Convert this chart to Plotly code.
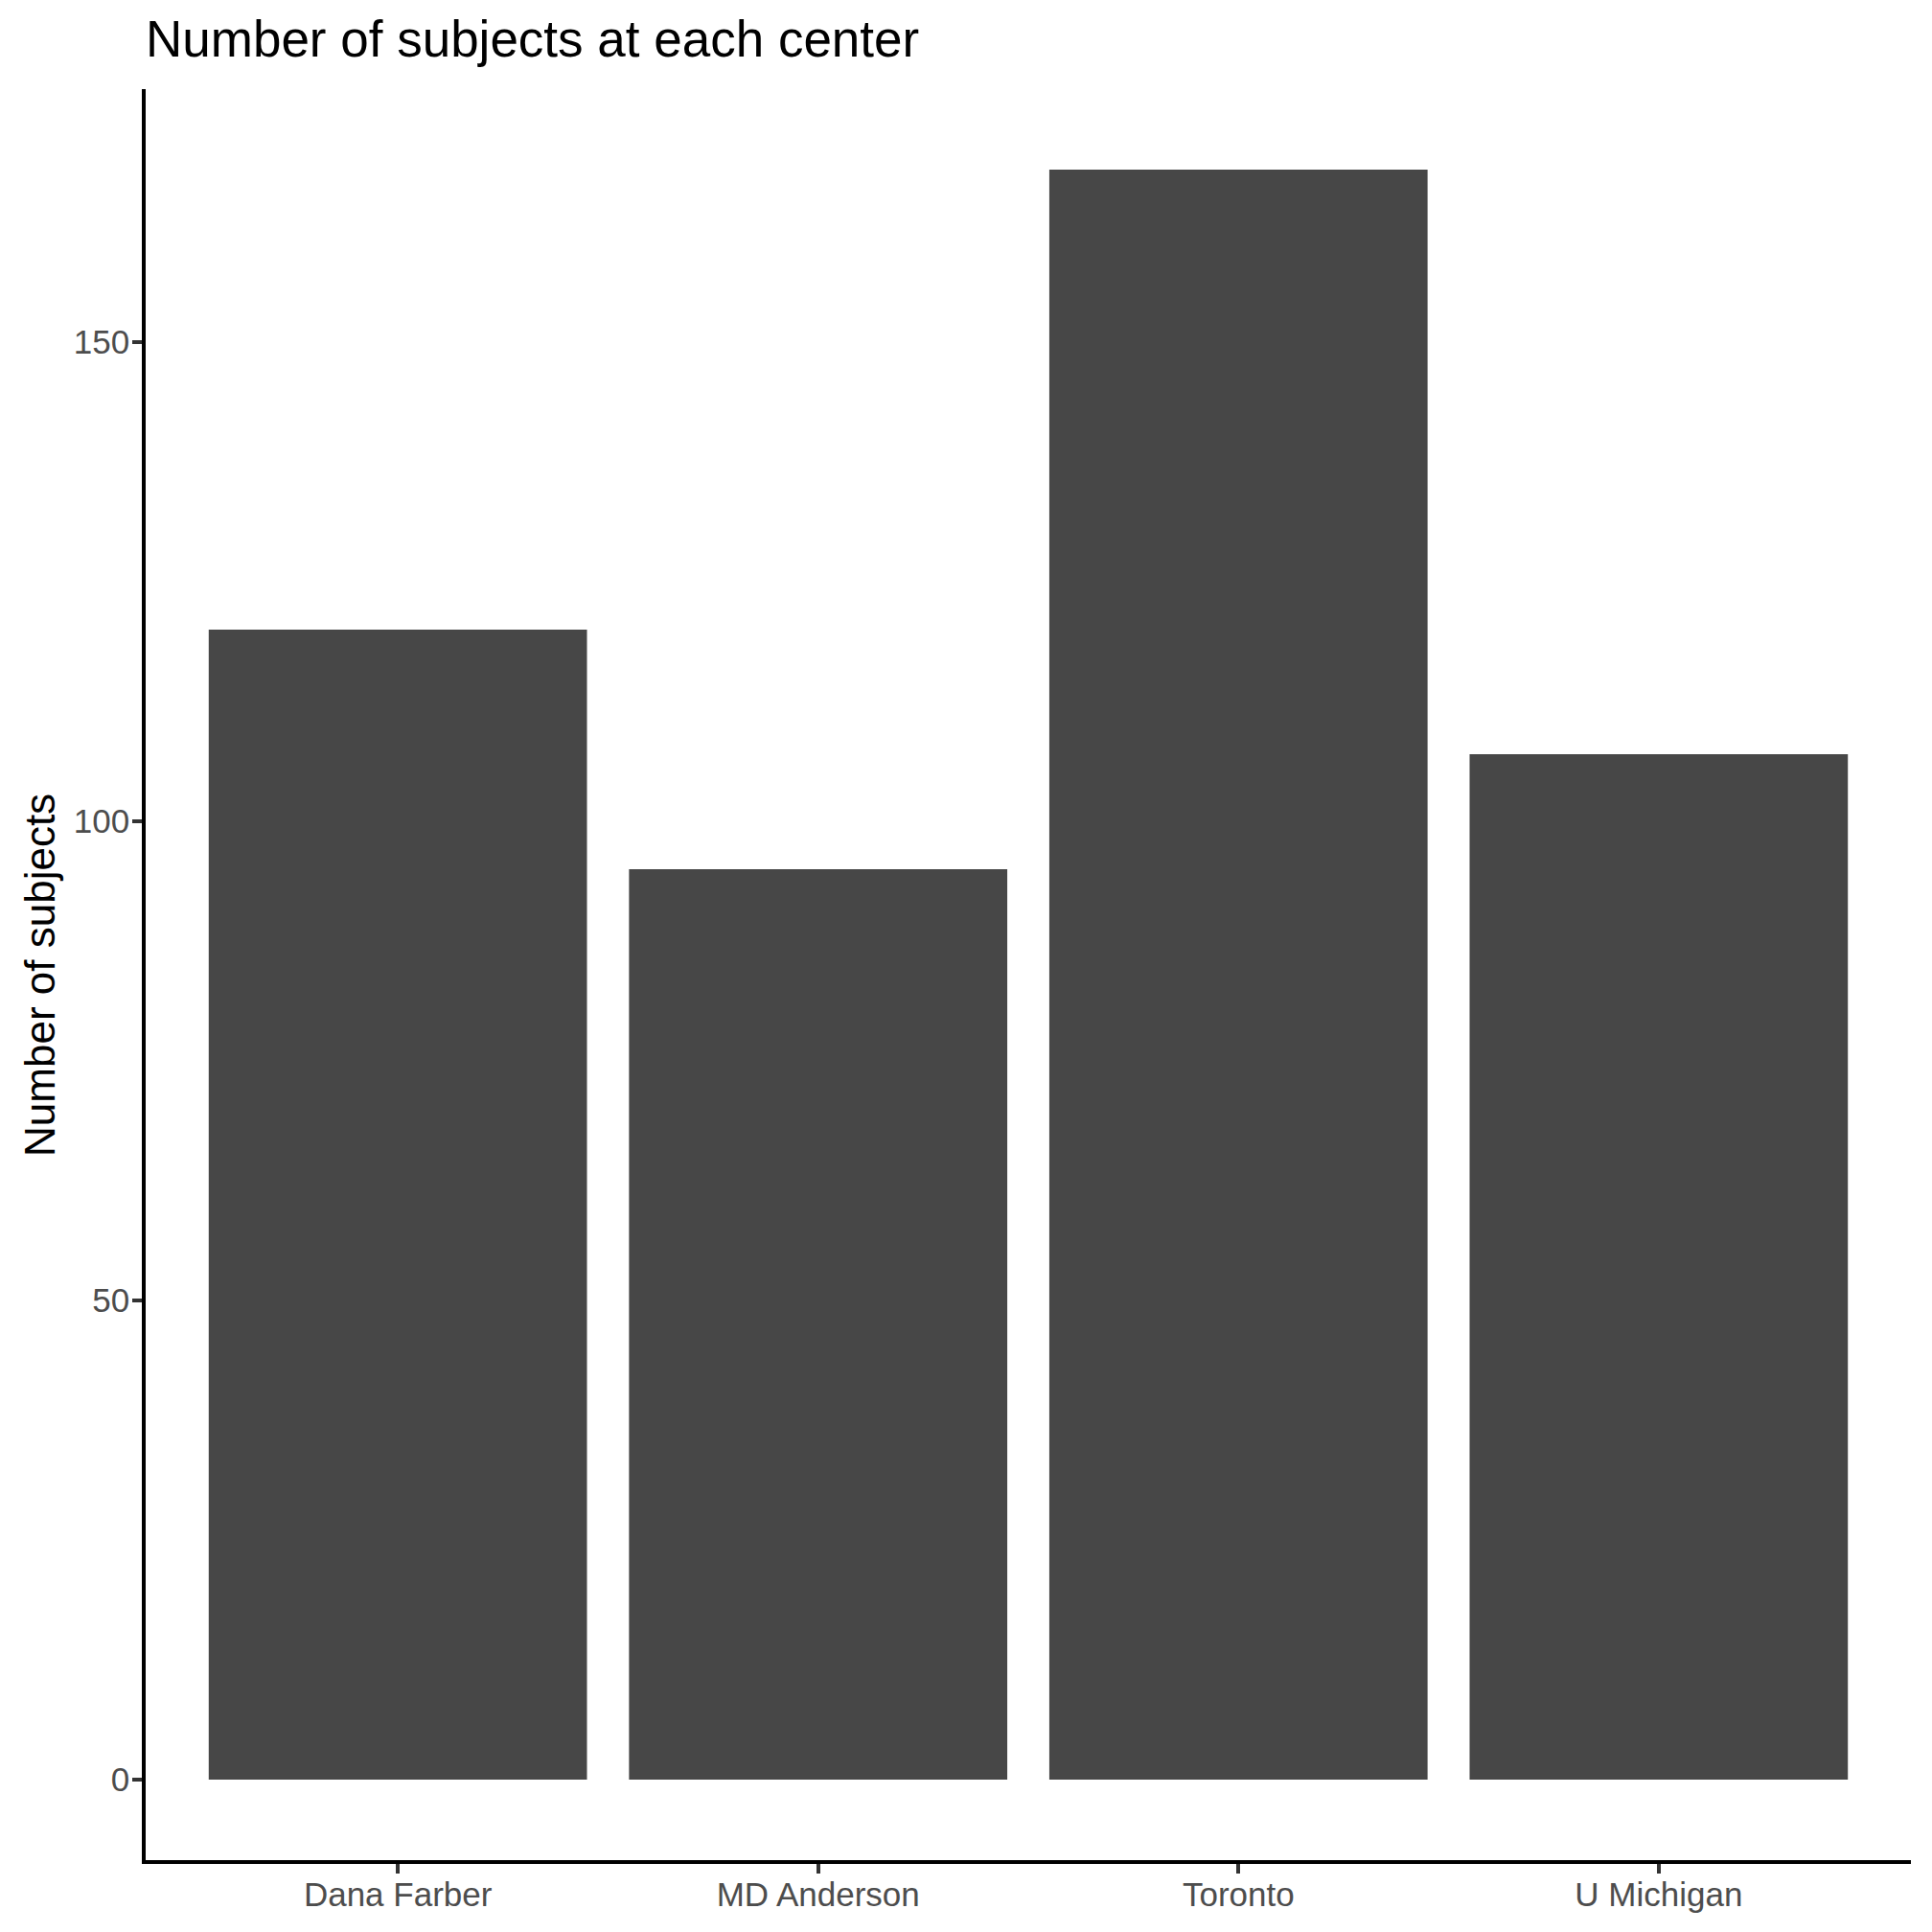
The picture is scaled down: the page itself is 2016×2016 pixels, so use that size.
import plotly.graph_objects as go

# bar chart data
centers = ["Dana Farber", "MD Anderson", "Toronto", "U Michigan"]
subjects = [120, 95, 168, 107]
y_ticks = [0, 50, 100, 150]

fig = go.Figure()
fig.add_trace(go.Bar(x=centers, y=subjects, width=0.9,
                     marker_color="#474747", marker_line_width=0))

font = "Liberation Sans, Arial, sans-serif"
# page body adds an 8px offset, so margins are shifted to compensate
fig.update_layout(
    width=2016, height=2016,
    margin=dict(l=144, r=30, t=85, b=83, pad=0),
    plot_bgcolor="white", paper_bgcolor="white",
    showlegend=False,
    font=dict(family=font),
    title=dict(text="Number of subjects at each center",
               font=dict(size=53, color="black", family=font),
               x=0, xref="paper", xanchor="left",
               y=1 - 32 / 2016, yref="container", yanchor="middle"),
)

fig.update_xaxes(range=[-0.6, 3.6], showline=True, linecolor="black", linewidth=3.6,
                 ticks="outside", ticklen=10, tickwidth=3.6, tickcolor="#333333",
                 ticklabelstandoff=-8,
                 tickfont=dict(size=35, color="#4D4D4D"), showgrid=False, zeroline=False)
fig.update_yaxes(range=[-8.4, 176.4], tickvals=y_ticks, showline=True, linecolor="black",
                 linewidth=3.6, ticks="outside", ticklen=10, tickwidth=3.6, tickcolor="#333333",
                 ticklabelstandoff=-4,
                 tickfont=dict(size=35, color="#4D4D4D"), showgrid=False, zeroline=False)

fig.add_annotation(text="Number of subjects", textangle=-90, showarrow=False,
                   xref="paper", yref="paper", x=-0.0603, y=0.5,
                   xanchor="center", yanchor="middle",
                   font=dict(size=44, color="black", family=font))

fig.write_html("out.html")
